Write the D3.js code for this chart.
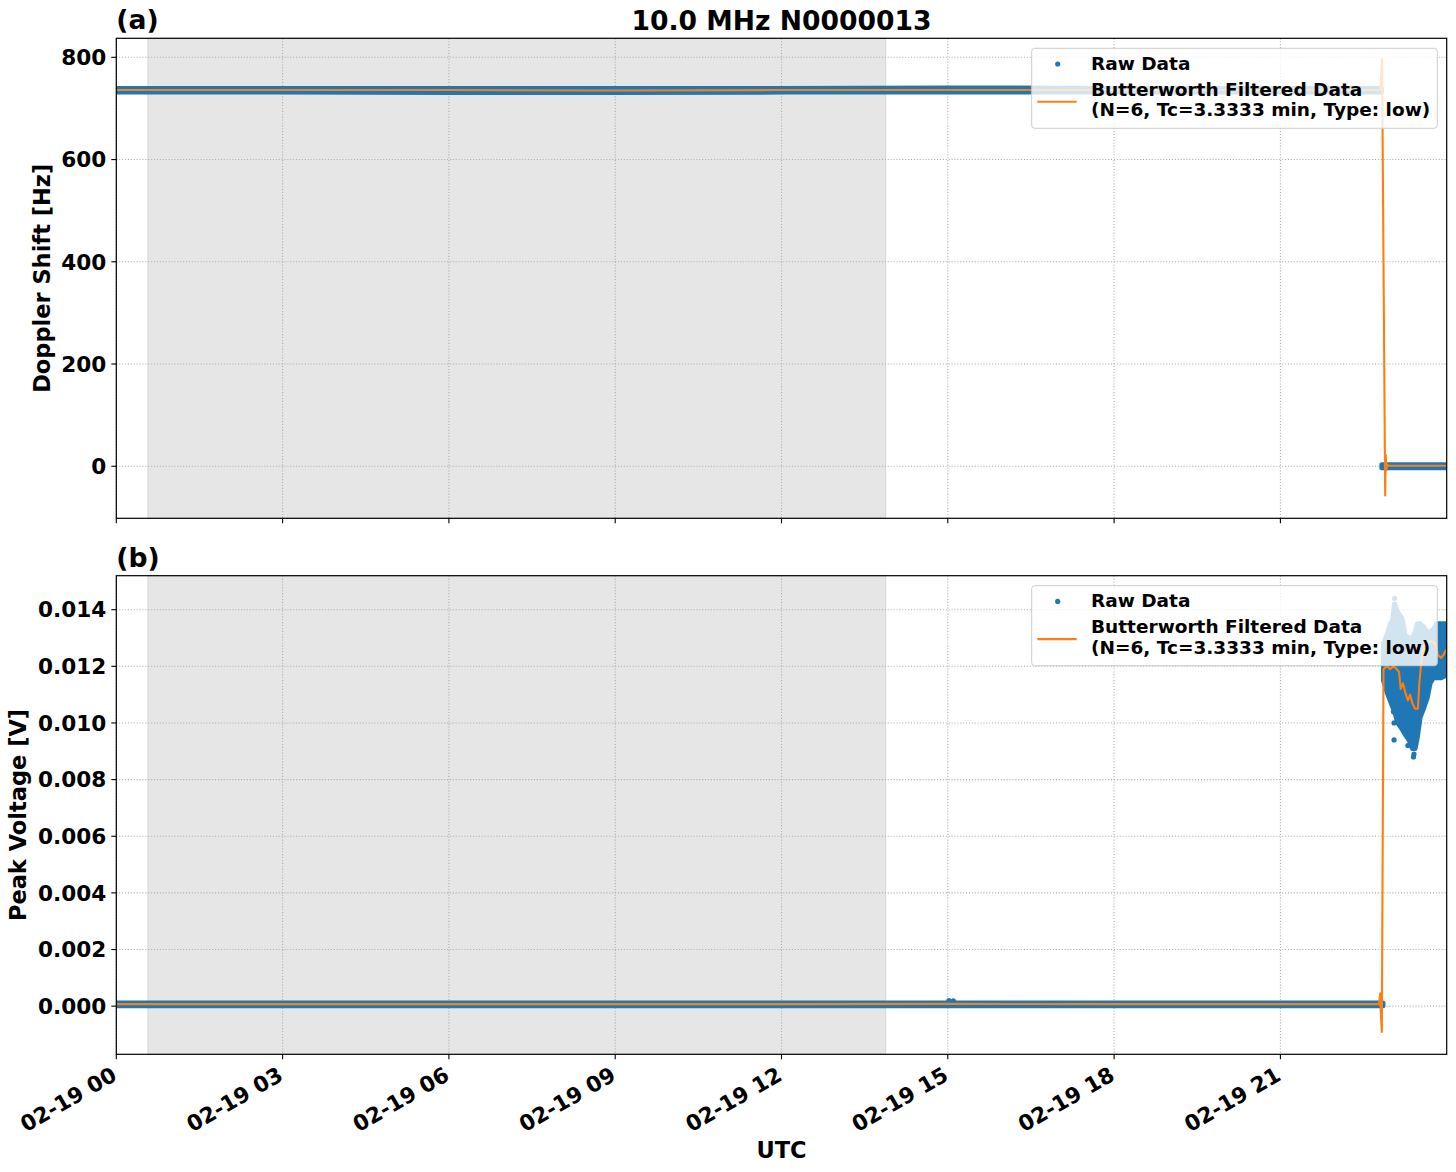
<!DOCTYPE html>
<html>
<head>
<meta charset="utf-8">
<script src="https://cdn.jsdelivr.net/npm/d3@7"></script>
<style>
  html, body { margin: 0; padding: 0; background: #fff; }
  text { font-family: "DejaVu Sans", sans-serif; font-weight: bold; }
</style>
</head>
<body>
<svg id="chart" width="1456" height="1172"></svg>
<script>
// ---------------- DATA (hours UTC on 2025-02-19) ----------------
const titleText = "10.0 MHz N0000013";
const xTickHours = [0, 3, 6, 9, 12, 15, 18, 21];
const xTickLabels = ["02-19 00", "02-19 03", "02-19 06", "02-19 09", "02-19 12", "02-19 15", "02-19 18", "02-19 21"];
const shadeStart = 0.57, shadeEnd = 13.88;

// Panel (a): Doppler shift [Hz]
const dopTicks = [0, 200, 400, 600, 800];
const dopRawPreT  = [0, 3, 6, 9, 12, 15, 16, 18, 21, 22.82];
const dopRawPreLo = [732, 732, 731, 731, 732, 732, 732, 732, 732, 732];
const dopRawPreHi = [739, 739, 739, 739, 739, 740, 740, 739, 739, 739];
const dopRawPostT  = [22.83, 24];
const dopRawPostLo = [-3, -3];
const dopRawPostHi = [3, 3];
const dopFiltT = [0, 3, 6, 9, 12, 15, 18, 21, 22.80, 22.834, 22.89, 22.90, 22.91, 22.925, 22.94, 24];
const dopFiltV = [736, 736, 736, 735, 736, 736, 736, 736, 736, 796, -57, 22, -8, 4, 1, 1];

// Panel (b): Peak voltage [V]
const volTicks = [0, 0.002, 0.004, 0.006, 0.008, 0.010, 0.012, 0.014];
const volRawPreT  = [0, 3, 6, 9, 12, 15, 18, 21, 22.85];
const volRawPreLo = [0.00001, 0.00001, 0.00001, 0.00001, 0.00001, 0.00001, 0.00001, 0.00001, 0.00001];
const volRawPreHi = [0.00011, 0.00011, 0.00011, 0.00011, 0.00011, 0.00011, 0.00011, 0.00011, 0.00011];
const volRawPostT  = [22.86, 22.94, 22.98, 23.02, 23.06, 23.12, 23.19, 23.25, 23.32, 23.38, 23.43, 23.47, 23.52, 23.58, 23.65, 23.70, 23.76, 23.82, 23.90, 24.0];
const volRawPostLo = [0.0115, 0.0110, 0.0108, 0.0106, 0.0104, 0.0100, 0.0098, 0.0096, 0.0094, 0.0091, 0.0091, 0.0095, 0.0102, 0.0105, 0.0109, 0.0114, 0.0116, 0.0116, 0.0116, 0.0117];
const volRawPostHi = [0.0128, 0.0132, 0.0135, 0.0136, 0.0142, 0.0139, 0.0137, 0.0131, 0.0130, 0.0130, 0.0132, 0.0135, 0.0135, 0.0134, 0.0132, 0.0132, 0.0133, 0.0135, 0.0135, 0.0135];
const volOutT = [23.04, 23.04, 23.05, 23.05, 23.06, 23.30, 23.40, 23.41, 15.02, 15.10];
const volOutV = [0.01074, 0.0104, 0.0100, 0.0094, 0.0144, 0.0092, 0.0088, 0.0089, 0.00020, 0.00019];
const volFiltT = [0, 3, 6, 9, 12, 15, 18, 21, 22.78, 22.80, 22.81, 22.83, 22.86, 22.92, 22.98, 23.04, 23.10, 23.14, 23.17, 23.21, 23.25, 23.30, 23.34, 23.38, 23.43, 23.48, 23.51, 23.54, 23.58, 23.64, 23.72, 23.80, 23.84, 23.90, 23.94, 24.0];
const volFiltV = [0.00007, 0.00007, 0.00007, 0.00007, 0.00007, 0.00008, 0.00007, 0.00007, 0.00007, 0.00045, -0.00015, -0.00091, 0.0119, 0.0120, 0.0119, 0.0120, 0.0119, 0.0118, 0.0112, 0.0114, 0.0111, 0.0108, 0.0110, 0.0107, 0.0105, 0.0105, 0.0115, 0.0121, 0.0127, 0.0128, 0.0129, 0.0128, 0.0124, 0.0123, 0.0124, 0.0126];

const legendRaw = "Raw Data";
const legendFilt = ["Butterworth Filtered Data", "(N=6, Tc=3.3333 min, Type: low)"];

// ---------------- LAYOUT ----------------
const BLUE = "#1f77b4", ORANGE = "#ff7f0e";
const svg = d3.select("#chart");
const X0 = 116.3, X1 = 1446.7;
const x = d3.scaleLinear().domain([0, 24]).range([X0, X1]);
const TICK_FS = "21.6px", LABEL_FS = "22.5px", LEG_FS = "18.5px", TITLE_FS = "26.6px";

const panels = [
  { label: "(a)", top: 38.3, bottom: 518.3, domain: [-101.8, 837.2], ticks: dopTicks, fmt: d3.format("d"),
    ylabel: "Doppler Shift [Hz]", ylabelX: 42,
    raw: [[dopRawPreT, dopRawPreLo, dopRawPreHi], [dopRawPostT, dopRawPostLo, dopRawPostHi]],
    out: [[], []], filt: [dopFiltT, dopFiltV], xLabels: false },
  { label: "(b)", top: 575.7, bottom: 1054.3, domain: [-0.00170, 0.01520], ticks: volTicks, fmt: d3.format(".3f"),
    ylabel: "Peak Voltage [V]", ylabelX: 18,
    raw: [[volRawPreT, volRawPreLo, volRawPreHi], [volRawPostT, volRawPostLo, volRawPostHi]],
    out: [volOutT, volOutV], filt: [volFiltT, volFiltV], xLabels: true }
];

svg.append("text").attr("x", (X0 + X1) / 2).attr("y", 30).attr("text-anchor", "middle")
  .style("font-size", TITLE_FS).text(titleText);

panels.forEach((p, pi) => {
  const y = d3.scaleLinear().domain(p.domain).range([p.bottom, p.top]);
  const g = svg.append("g");
  const clipId = "clip" + pi;
  svg.append("clipPath").attr("id", clipId).append("rect")
    .attr("x", X0).attr("y", p.top).attr("width", X1 - X0).attr("height", p.bottom - p.top);

  // shaded span
  g.append("rect").attr("x", x(shadeStart)).attr("y", p.top)
    .attr("width", x(shadeEnd) - x(shadeStart)).attr("height", p.bottom - p.top)
    .attr("fill", "#e6e6e6").attr("stroke", "#d6d6d6").attr("stroke-width", 1);

  // grid
  const grid = g.append("g").attr("stroke", "#b0b0b0").attr("stroke-width", 1.1).attr("stroke-dasharray", "1.1,1.8");
  xTickHours.forEach(h => grid.append("line").attr("x1", x(h)).attr("x2", x(h)).attr("y1", p.top).attr("y2", p.bottom));
  p.ticks.forEach(v => grid.append("line").attr("x1", X0).attr("x2", X1).attr("y1", y(v)).attr("y2", y(v)));

  const data = g.append("g").attr("clip-path", `url(#${clipId})`);
  // raw data envelopes
  p.raw.forEach(([ts, lo, hi]) => {
    const rows = ts.map((t, i) => ({ t, lo: lo[i], hi: hi[i] }));
    const area = d3.area().x(d => x(d.t)).y0(d => y(d.lo)).y1(d => y(d.hi));
    data.append("path").attr("d", area(rows)).attr("fill", BLUE)
      .attr("stroke", BLUE).attr("stroke-width", 5).attr("stroke-linejoin", "round");
  });
  // raw outlier points
  p.out[0].forEach((t, i) => {
    data.append("circle").attr("cx", x(t)).attr("cy", y(p.out[1][i])).attr("r", 2.6).attr("fill", BLUE);
  });
  // filtered line
  const frows = p.filt[0].map((t, i) => ({ t, v: p.filt[1][i] }));
  data.append("path").attr("d", d3.line().x(d => x(d.t)).y(d => y(d.v))(frows))
    .attr("fill", "none").attr("stroke", ORANGE).attr("stroke-width", 2.1).attr("stroke-linejoin", "round");

  // legend
  const lg = g.append("g").attr("transform", `translate(1031.7,${p.top + 10})`);
  lg.append("rect").attr("x", 0).attr("y", 0).attr("width", 405.6).attr("height", 80).attr("rx", 3)
    .attr("fill", "#fff").attr("fill-opacity", 0.8).attr("stroke", "#cccccc").attr("stroke-width", 1);
  lg.append("circle").attr("cx", 26).attr("cy", 15.7).attr("r", 2.6).attr("fill", BLUE);
  lg.append("text").attr("x", 59.3).attr("y", 21.3).style("font-size", LEG_FS).text(legendRaw);
  lg.append("line").attr("x1", 5.6).attr("x2", 45).attr("y1", 53.4).attr("y2", 53.4)
    .attr("stroke", ORANGE).attr("stroke-width", 2.1);
  lg.append("text").attr("x", 59.3).attr("y", 47.6).style("font-size", LEG_FS).text(legendFilt[0]);
  lg.append("text").attr("x", 59.3).attr("y", 67.9).style("font-size", LEG_FS).text(legendFilt[1]);

  // spines
  g.append("rect").attr("x", X0).attr("y", p.top).attr("width", X1 - X0).attr("height", p.bottom - p.top)
    .attr("fill", "none").attr("stroke", "#000").attr("stroke-width", 1.2);

  // y ticks
  p.ticks.forEach(v => {
    g.append("line").attr("x1", X0 - 5).attr("x2", X0).attr("y1", y(v)).attr("y2", y(v)).attr("stroke", "#000").attr("stroke-width", 1.1);
    g.append("text").attr("x", X0 - 10).attr("y", y(v)).attr("dy", "0.36em").attr("text-anchor", "end")
      .style("font-size", TICK_FS).text(p.fmt(v));
  });
  // x ticks
  xTickHours.forEach((h, i) => {
    g.append("line").attr("x1", x(h)).attr("x2", x(h)).attr("y1", p.bottom).attr("y2", p.bottom + 5).attr("stroke", "#000").attr("stroke-width", 1.1);
    if (p.xLabels) {
      g.append("text").attr("transform", `translate(${x(h) - 6},${p.bottom + 11}) rotate(-30)`)
        .attr("text-anchor", "end").attr("dy", "0.74em").style("font-size", TICK_FS).text(xTickLabels[i]);
    }
  });

  // panel label
  g.append("text").attr("x", X0).attr("y", p.top - 9).style("font-size", TITLE_FS).text(p.label);
  // y label
  g.append("text").attr("transform", `translate(${p.ylabelX},${(p.top + p.bottom) / 2}) rotate(-90)`)
    .attr("text-anchor", "middle").attr("dy", "0.36em").style("font-size", LABEL_FS).text(p.ylabel);
});

svg.append("text").attr("x", (X0 + X1) / 2).attr("y", 1158).attr("text-anchor", "middle")
  .style("font-size", LABEL_FS).text("UTC");
</script>
</body>
</html>
